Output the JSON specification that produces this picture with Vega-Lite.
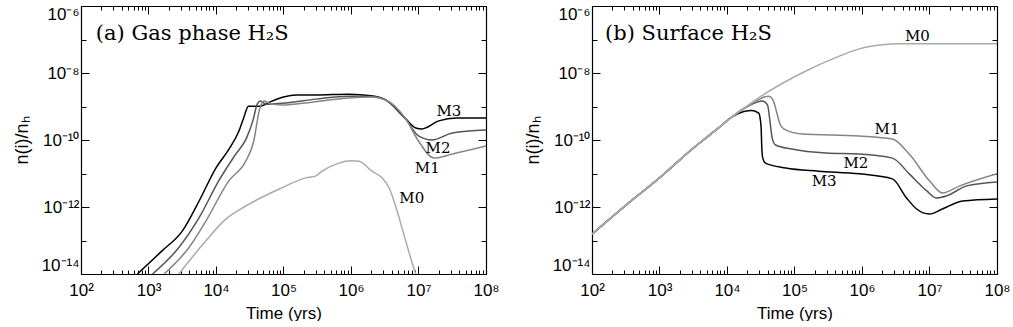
{
  "$schema": "https://vega.github.io/schema/vega-lite/v6.json",
  "background": "white",
  "padding": {"left": 13, "top": 5, "right": 5, "bottom": 0},
  "spacing": 24,
  "config": {
    "view": {"stroke": null},
    "axis": {"grid": false, "domainColor": "#000", "domainWidth": 1.2, "tickColor": "#000", "tickWidth": 1, "labelFont": "Liberation Sans", "labelFontSize": 17, "labelColor": "#000", "titleFont": "Liberation Sans", "titleFontSize": 17, "titleFontWeight": "normal", "titleColor": "#000", "labelOverlap": false}
  },
  "datasets": {
    "gas": [
      {"model": "M3", "t": 684, "n": 1e-14}, {"model": "M3", "t": 1585, "n": 4.9e-14}, {"model": "M3", "t": 3162, "n": 1.91e-13}, {"model": "M3", "t": 5623, "n": 1.51e-12}, {"model": "M3", "t": 10000, "n": 1.48e-11}, {"model": "M3", "t": 15488, "n": 5.25e-11}, {"model": "M3", "t": 21878, "n": 1.86e-10}, {"model": "M3", "t": 25704, "n": 4.57e-10}, {"model": "M3", "t": 30200, "n": 1.02e-9}, {"model": "M3", "t": 44000, "n": 1.02e-9}, {"model": "M3", "t": 67608, "n": 1.45e-9}, {"model": "M3", "t": 100000, "n": 1.91e-9}, {"model": "M3", "t": 154882, "n": 2.19e-9}, {"model": "M3", "t": 301995, "n": 2.19e-9}, {"model": "M3", "t": 933254, "n": 2.34e-9}, {"model": "M3", "t": 1995262, "n": 2.09e-9}, {"model": "M3", "t": 3311311, "n": 1.55e-9}, {"model": "M3", "t": 6456542, "n": 4.27e-10}, {"model": "M3", "t": 9120108, "n": 2.29e-10}, {"model": "M3", "t": 11220185, "n": 2.14e-10}, {"model": "M3", "t": 19952623, "n": 3.72e-10}, {"model": "M3", "t": 36307805, "n": 4.57e-10}, {"model": "M3", "t": 100000000, "n": 4.57e-10},
      {"model": "M2", "t": 1148, "n": 1e-14}, {"model": "M2", "t": 2818, "n": 6.17e-14}, {"model": "M2", "t": 5623, "n": 4.79e-13}, {"model": "M2", "t": 10965, "n": 6.03e-12}, {"model": "M2", "t": 19498, "n": 3.72e-11}, {"model": "M2", "t": 28184, "n": 1.12e-10}, {"model": "M2", "t": 35481, "n": 3.98e-10}, {"model": "M2", "t": 40738, "n": 1.175e-9}, {"model": "M2", "t": 45709, "n": 1.45e-9}, {"model": "M2", "t": 54954, "n": 1.175e-9}, {"model": "M2", "t": 95499, "n": 1.26e-9}, {"model": "M2", "t": 301995, "n": 1.66e-9}, {"model": "M2", "t": 933254, "n": 2.04e-9}, {"model": "M2", "t": 1995262, "n": 2.0e-9}, {"model": "M2", "t": 3311311, "n": 1.55e-9}, {"model": "M2", "t": 6456542, "n": 4.27e-10}, {"model": "M2", "t": 10000000, "n": 1.32e-10}, {"model": "M2", "t": 15848932, "n": 1.0e-10}, {"model": "M2", "t": 31622777, "n": 1.62e-10}, {"model": "M2", "t": 100000000, "n": 2.0e-10},
      {"model": "M1", "t": 1698, "n": 1e-14}, {"model": "M1", "t": 3981, "n": 6.17e-14}, {"model": "M1", "t": 7079, "n": 3.8e-13}, {"model": "M1", "t": 15488, "n": 6.03e-12}, {"model": "M1", "t": 27542, "n": 2.34e-11}, {"model": "M1", "t": 36308, "n": 9.33e-11}, {"model": "M1", "t": 43652, "n": 7.41e-10}, {"model": "M1", "t": 51286, "n": 1.45e-9}, {"model": "M1", "t": 61660, "n": 1.26e-9}, {"model": "M1", "t": 95499, "n": 1.1e-9}, {"model": "M1", "t": 263027, "n": 1.35e-9}, {"model": "M1", "t": 933254, "n": 1.78e-9}, {"model": "M1", "t": 1995262, "n": 1.91e-9}, {"model": "M1", "t": 3311311, "n": 1.55e-9}, {"model": "M1", "t": 6456542, "n": 4.27e-10}, {"model": "M1", "t": 10000000, "n": 9.33e-11}, {"model": "M1", "t": 16982437, "n": 2.88e-11}, {"model": "M1", "t": 31622777, "n": 3.8e-11}, {"model": "M1", "t": 100000000, "n": 6.61e-11},
      {"model": "M0", "t": 2818, "n": 1e-14}, {"model": "M0", "t": 4467, "n": 3.2e-14}, {"model": "M0", "t": 7079, "n": 9.77e-14}, {"model": "M0", "t": 13804, "n": 4.27e-13}, {"model": "M0", "t": 27542, "n": 1.07e-12}, {"model": "M0", "t": 85114, "n": 3.39e-12}, {"model": "M0", "t": 213796, "n": 7.41e-12}, {"model": "M0", "t": 301995, "n": 8.51e-12}, {"model": "M0", "t": 371535, "n": 1.17e-11}, {"model": "M0", "t": 660693, "n": 2.04e-11}, {"model": "M0", "t": 1000000, "n": 2.4e-11}, {"model": "M0", "t": 1318257, "n": 2.34e-11}, {"model": "M0", "t": 2041738, "n": 1.17e-11}, {"model": "M0", "t": 2884032, "n": 7.41e-12}, {"model": "M0", "t": 3715352, "n": 3.5e-12}, {"model": "M0", "t": 4677351, "n": 9.33e-13}, {"model": "M0", "t": 6456542, "n": 9.77e-14}, {"model": "M0", "t": 9120108, "n": 1e-14}, {"model": "M0", "t": 10471285, "n": 5e-15}
    ],
    "gasLabels": [
      {"model": "M3", "t": 28183829, "n": 7.41e-10}, {"model": "M2", "t": 19498446, "n": 5.75e-11}, {"model": "M1", "t": 13489629, "n": 1.45e-11}, {"model": "M0", "t": 7943282, "n": 1.86e-12}
    ],
    "surf": [
      {"model": "M3", "t": 100, "n": 1.55e-13}, {"model": "M3", "t": 316, "n": 1.12e-12}, {"model": "M3", "t": 1000, "n": 7.41e-12}, {"model": "M3", "t": 3162, "n": 5.75e-11}, {"model": "M3", "t": 7499, "n": 2.29e-10}, {"model": "M3", "t": 12023, "n": 5.01e-10}, {"model": "M3", "t": 17783, "n": 7.08e-10}, {"model": "M3", "t": 23442, "n": 7.59e-10}, {"model": "M3", "t": 29512, "n": 6.31e-10}, {"model": "M3", "t": 31989, "n": 2.51e-10}, {"model": "M3", "t": 32734, "n": 6.31e-11}, {"model": "M3", "t": 33884, "n": 2.88e-11}, {"model": "M3", "t": 37154, "n": 2.04e-11}, {"model": "M3", "t": 74131, "n": 1.45e-11}, {"model": "M3", "t": 229087, "n": 1.17e-11}, {"model": "M3", "t": 912011, "n": 9.77e-12}, {"model": "M3", "t": 2818383, "n": 6.92e-12}, {"model": "M3", "t": 4570882, "n": 1.86e-12}, {"model": "M3", "t": 6456542, "n": 8.71e-13}, {"model": "M3", "t": 10000000, "n": 6.17e-13}, {"model": "M3", "t": 15488166, "n": 8.71e-13}, {"model": "M3", "t": 30902954, "n": 1.51e-12}, {"model": "M3", "t": 100000000, "n": 1.74e-12},
      {"model": "M2", "t": 100, "n": 1.55e-13}, {"model": "M2", "t": 316, "n": 1.12e-12}, {"model": "M2", "t": 1000, "n": 7.41e-12}, {"model": "M2", "t": 3162, "n": 5.75e-11}, {"model": "M2", "t": 7499, "n": 2.29e-10}, {"model": "M2", "t": 12023, "n": 5.01e-10}, {"model": "M2", "t": 19953, "n": 1.0e-9}, {"model": "M2", "t": 28184, "n": 1.35e-9}, {"model": "M2", "t": 33113, "n": 1.45e-9}, {"model": "M2", "t": 39811, "n": 1.12e-9}, {"model": "M2", "t": 43652, "n": 3.16e-10}, {"model": "M2", "t": 46774, "n": 1.12e-10}, {"model": "M2", "t": 52481, "n": 7.08e-11}, {"model": "M2", "t": 91201, "n": 5.37e-11}, {"model": "M2", "t": 295121, "n": 4.07e-11}, {"model": "M2", "t": 912011, "n": 3.8e-11}, {"model": "M2", "t": 2818383, "n": 2.88e-11}, {"model": "M2", "t": 5011872, "n": 9.77e-12}, {"model": "M2", "t": 9120108, "n": 3.02e-12}, {"model": "M2", "t": 12589254, "n": 1.86e-12}, {"model": "M2", "t": 17782794, "n": 2.14e-12}, {"model": "M2", "t": 35481339, "n": 4.27e-12}, {"model": "M2", "t": 100000000, "n": 5.62e-12},
      {"model": "M1", "t": 100, "n": 1.55e-13}, {"model": "M1", "t": 316, "n": 1.12e-12}, {"model": "M1", "t": 1000, "n": 7.41e-12}, {"model": "M1", "t": 3162, "n": 5.75e-11}, {"model": "M1", "t": 7499, "n": 2.29e-10}, {"model": "M1", "t": 12023, "n": 5.01e-10}, {"model": "M1", "t": 19953, "n": 1.0e-9}, {"model": "M1", "t": 28184, "n": 1.51e-9}, {"model": "M1", "t": 35481, "n": 1.91e-9}, {"model": "M1", "t": 41687, "n": 2.04e-9}, {"model": "M1", "t": 47863, "n": 1.58e-9}, {"model": "M1", "t": 54954, "n": 6.31e-10}, {"model": "M1", "t": 60256, "n": 3.16e-10}, {"model": "M1", "t": 69183, "n": 2.14e-10}, {"model": "M1", "t": 128825, "n": 1.51e-10}, {"model": "M1", "t": 912011, "n": 1.32e-10}, {"model": "M1", "t": 2818383, "n": 1.07e-10}, {"model": "M1", "t": 5011872, "n": 3.8e-11}, {"model": "M1", "t": 10000000, "n": 6.03e-12}, {"model": "M1", "t": 15488166, "n": 2.63e-12}, {"model": "M1", "t": 28183829, "n": 4.27e-12}, {"model": "M1", "t": 100000000, "n": 9.77e-12},
      {"model": "M0", "t": 100, "n": 1.55e-13}, {"model": "M0", "t": 316, "n": 1.12e-12}, {"model": "M0", "t": 1000, "n": 7.41e-12}, {"model": "M0", "t": 3162, "n": 5.75e-11}, {"model": "M0", "t": 7499, "n": 2.29e-10}, {"model": "M0", "t": 12023, "n": 5.01e-10}, {"model": "M0", "t": 19953, "n": 1.05e-9}, {"model": "M0", "t": 31623, "n": 2.0e-9}, {"model": "M0", "t": 147911, "n": 1.15e-8}, {"model": "M0", "t": 398107, "n": 2.82e-8}, {"model": "M0", "t": 912011, "n": 5.25e-8}, {"model": "M0", "t": 1995262, "n": 6.92e-8}, {"model": "M0", "t": 3548134, "n": 7.41e-8}, {"model": "M0", "t": 100000000, "n": 7.41e-8}
    ],
    "surfLabels": [
      {"model": "M0", "t": 6606934, "n": 1.26e-7}, {"model": "M1", "t": 2344229, "n": 2.14e-10}, {"model": "M2", "t": 812831, "n": 2.04e-11}, {"model": "M3", "t": 275423, "n": 6.03e-12}
    ]
  },
  "hconcat": [
    {
      "width": 405, "height": 268,
      "resolve": {"axis": {"x": "independent", "y": "independent"}},
      "layer": [
        {
          "data": {"name": "gas"},
          "mark": {"type": "line", "clip": true, "strokeWidth": 1.5, "interpolate": "monotone"},
          "encoding": {
            "x": {"field": "t", "type": "quantitative", "scale": {"type": "log", "domain": [100, 100000000], "nice": false},
              "axis": {"values": [100,200,300,400,500,600,700,800,900,1000,2000,3000,4000,5000,6000,7000,8000,9000,10000,20000,30000,40000,50000,60000,70000,80000,90000,100000,200000,300000,400000,500000,600000,700000,800000,900000,1000000,2000000,3000000,4000000,5000000,6000000,7000000,8000000,9000000,10000000,20000000,30000000,40000000,50000000,60000000,70000000,80000000,90000000,100000000],
                "labelExpr": "abs(log(datum.value)/LN10-round(log(datum.value)/LN10))<0.001 ? ['10²','10³','10⁴','10⁵','10⁶','10⁷','10⁸'][round(log(datum.value)/LN10)-2] : ''",
                "tickSize": {"condition": {"test": "abs(log(datum.value)/LN10-round(log(datum.value)/LN10))<0.001", "value": -8}, "value": -4},
                "labelPadding": 16, "labelFlush": false, "title": "Time (yrs)", "titlePadding": 3}},
            "y": {"field": "n", "type": "quantitative", "scale": {"type": "log", "domain": [1e-14, 1e-6], "nice": false},
              "axis": {"values": [1e-14,1e-13,1e-12,1e-11,1e-10,1e-9,1e-8,1e-7,1e-6],
                "labelExpr": "['10⁻¹⁴','','10⁻¹²','','10⁻¹⁰','','10⁻⁸','','10⁻⁶'][round(log(datum.value)/LN10)+14]",
                "tickSize": {"condition": {"test": "abs(log(datum.value)/LN10/2-round(log(datum.value)/LN10/2))<0.001", "value": -8}, "value": -5},
                "labelPadding": 10, "labelFlush": true, "title": "n(i)/nₕ", "titlePadding": 10, "titleFontSize": 18}},
            "color": {"field": "model", "type": "nominal", "scale": {"domain": ["M0","M1","M2","M3"], "range": ["#aaaaaa","#858585","#555555","#000000"]}, "legend": null}
          }
        },
        {
          "data": {"name": "gasLabels"},
          "mark": {"type": "text", "font": "DejaVu Serif", "fontSize": 15, "color": "#000", "baseline": "middle", "align": "center"},
          "encoding": {
            "x": {"field": "t", "type": "quantitative", "scale": {"type": "log", "domain": [100, 100000000], "nice": false}, "axis": {"orient": "top", "values": [100,200,300,400,500,600,700,800,900,1000,2000,3000,4000,5000,6000,7000,8000,9000,10000,20000,30000,40000,50000,60000,70000,80000,90000,100000,200000,300000,400000,500000,600000,700000,800000,900000,1000000,2000000,3000000,4000000,5000000,6000000,7000000,8000000,9000000,10000000,20000000,30000000,40000000,50000000,60000000,70000000,80000000,90000000,100000000], "labels": false, "title": null, "tickSize": {"condition": {"test": "abs(log(datum.value)/LN10-round(log(datum.value)/LN10))<0.001", "value": -8}, "value": -4}}},
            "y": {"field": "n", "type": "quantitative", "scale": {"type": "log", "domain": [1e-14, 1e-6], "nice": false}, "axis": {"orient": "right", "values": [1e-14,1e-13,1e-12,1e-11,1e-10,1e-9,1e-8,1e-7,1e-6], "labels": false, "title": null, "tickSize": {"condition": {"test": "abs(log(datum.value)/LN10/2-round(log(datum.value)/LN10/2))<0.001", "value": -8}, "value": -5}}},
            "text": {"field": "model"}
          }
        },
        {
          "data": {"values": [{"t": 166, "n": 1e-7, "label": "(a) Gas phase H₂S"}]},
          "mark": {"type": "text", "font": "DejaVu Serif", "fontSize": 21, "color": "#000", "align": "left", "baseline": "alphabetic"},
          "encoding": {
            "x": {"field": "t", "type": "quantitative", "axis": null},
            "y": {"field": "n", "type": "quantitative", "axis": null},
            "text": {"field": "label"}
          }
        }
      ]
    },
    {
      "width": 405, "height": 268,
      "resolve": {"axis": {"x": "independent", "y": "independent"}},
      "layer": [
        {
          "data": {"name": "surf"},
          "mark": {"type": "line", "clip": true, "strokeWidth": 1.5, "interpolate": "monotone"},
          "encoding": {
            "x": {"field": "t", "type": "quantitative", "scale": {"type": "log", "domain": [100, 100000000], "nice": false},
              "axis": {"values": [100,200,300,400,500,600,700,800,900,1000,2000,3000,4000,5000,6000,7000,8000,9000,10000,20000,30000,40000,50000,60000,70000,80000,90000,100000,200000,300000,400000,500000,600000,700000,800000,900000,1000000,2000000,3000000,4000000,5000000,6000000,7000000,8000000,9000000,10000000,20000000,30000000,40000000,50000000,60000000,70000000,80000000,90000000,100000000],
                "labelExpr": "abs(log(datum.value)/LN10-round(log(datum.value)/LN10))<0.001 ? ['10²','10³','10⁴','10⁵','10⁶','10⁷','10⁸'][round(log(datum.value)/LN10)-2] : ''",
                "tickSize": {"condition": {"test": "abs(log(datum.value)/LN10-round(log(datum.value)/LN10))<0.001", "value": -8}, "value": -4},
                "labelPadding": 16, "labelFlush": false, "title": "Time (yrs)", "titlePadding": 3}},
            "y": {"field": "n", "type": "quantitative", "scale": {"type": "log", "domain": [1e-14, 1e-6], "nice": false},
              "axis": {"values": [1e-14,1e-13,1e-12,1e-11,1e-10,1e-9,1e-8,1e-7,1e-6],
                "labelExpr": "['10⁻¹⁴','','10⁻¹²','','10⁻¹⁰','','10⁻⁸','','10⁻⁶'][round(log(datum.value)/LN10)+14]",
                "tickSize": {"condition": {"test": "abs(log(datum.value)/LN10/2-round(log(datum.value)/LN10/2))<0.001", "value": -8}, "value": -5},
                "labelPadding": 10, "labelFlush": true, "title": "n(i)/nₕ", "titlePadding": 10, "titleFontSize": 18}},
            "color": {"field": "model", "type": "nominal", "scale": {"domain": ["M0","M1","M2","M3"], "range": ["#aaaaaa","#858585","#555555","#000000"]}, "legend": null}
          }
        },
        {
          "data": {"name": "surfLabels"},
          "mark": {"type": "text", "font": "DejaVu Serif", "fontSize": 15, "color": "#000", "baseline": "middle", "align": "center"},
          "encoding": {
            "x": {"field": "t", "type": "quantitative", "scale": {"type": "log", "domain": [100, 100000000], "nice": false}, "axis": {"orient": "top", "values": [100,200,300,400,500,600,700,800,900,1000,2000,3000,4000,5000,6000,7000,8000,9000,10000,20000,30000,40000,50000,60000,70000,80000,90000,100000,200000,300000,400000,500000,600000,700000,800000,900000,1000000,2000000,3000000,4000000,5000000,6000000,7000000,8000000,9000000,10000000,20000000,30000000,40000000,50000000,60000000,70000000,80000000,90000000,100000000], "labels": false, "title": null, "tickSize": {"condition": {"test": "abs(log(datum.value)/LN10-round(log(datum.value)/LN10))<0.001", "value": -8}, "value": -4}}},
            "y": {"field": "n", "type": "quantitative", "scale": {"type": "log", "domain": [1e-14, 1e-6], "nice": false}, "axis": {"orient": "right", "values": [1e-14,1e-13,1e-12,1e-11,1e-10,1e-9,1e-8,1e-7,1e-6], "labels": false, "title": null, "tickSize": {"condition": {"test": "abs(log(datum.value)/LN10/2-round(log(datum.value)/LN10/2))<0.001", "value": -8}, "value": -5}}},
            "text": {"field": "model"}
          }
        },
        {
          "data": {"values": [{"t": 156, "n": 1e-7, "label": "(b) Surface H₂S"}]},
          "mark": {"type": "text", "font": "DejaVu Serif", "fontSize": 21, "color": "#000", "align": "left", "baseline": "alphabetic"},
          "encoding": {
            "x": {"field": "t", "type": "quantitative", "axis": null},
            "y": {"field": "n", "type": "quantitative", "axis": null},
            "text": {"field": "label"}
          }
        }
      ]
    }
  ]
}
